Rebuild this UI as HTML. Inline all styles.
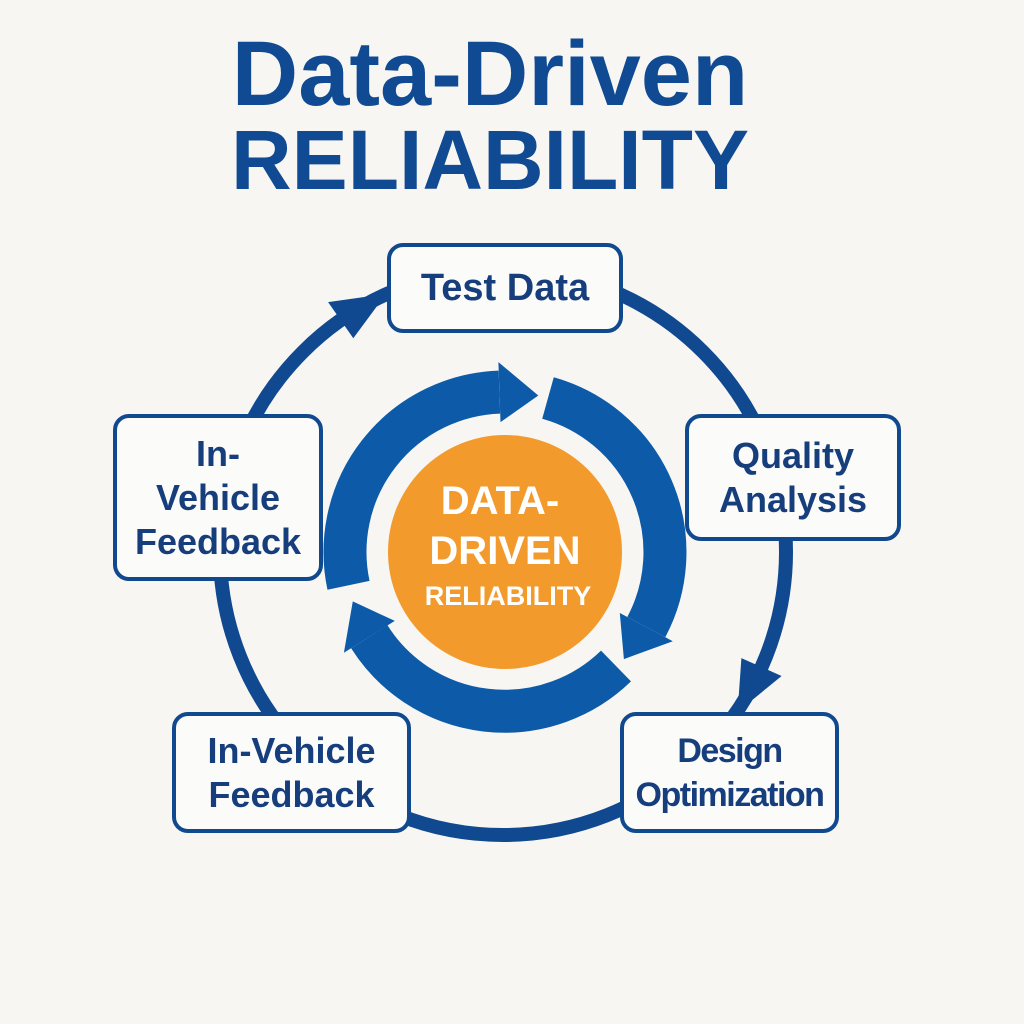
<!DOCTYPE html>
<html><head><meta charset="utf-8"><style>
html,body{margin:0;padding:0;background:#f7f6f2;}
body{width:1024px;height:1024px;position:relative;overflow:hidden;font-family:"Liberation Sans",sans-serif;}
.t{position:absolute;left:0;width:980px;text-align:center;color:#0f4a92;font-weight:bold;}
.box{position:absolute;border:4px solid #11498f;border-radius:16px;background:#fbfbf9;box-sizing:border-box;display:flex;align-items:center;justify-content:center;text-align:center;color:#163e7c;font-weight:bold;font-size:36px;line-height:44px;}
</style></head><body>
<div class="t" style="top:26px;font-size:92px;line-height:96px;">Data-Driven</div>
<div class="t" style="top:118px;font-size:84px;line-height:84px;">RELIABILITY</div>
<svg width="1024" height="1024" style="position:absolute;left:0;top:0">
<circle cx="503" cy="552" r="283" fill="none" stroke="#10498f" stroke-width="14"/>
<polygon points="386,294 353.3,338.2 328.1,302.1" fill="#10498f"/>
<polygon points="737.6,712 741.4,658.1 781.6,676.0" fill="#10498f"/>
<g fill="none" stroke="#0c5aa8" stroke-width="43">
<path d="M348.5 585.3 A160 160 0 0 1 499.4 392.1"/>
<path d="M548 398 A160 160 0 0 1 646.3 627.1"/>
<path d="M616 666 A160 160 0 0 1 369.3 636.8"/>
</g>
<g fill="#0c5aa8">
<polygon points="500.5,422.1 498.4,362.1 538.3,395.5"/>
<polygon points="619.8,613.0 672.8,641.2 623.9,659.1"/>
<polygon points="394.8,620.9 343.9,652.7 352.8,601.4"/>
</g>
<circle cx="505" cy="552" r="117" fill="#f39a2c"/>
<g fill="#fff" font-family="Liberation Sans" font-weight="bold" text-anchor="middle">
<text x="500" y="514" font-size="40">DATA-</text>
<text x="505" y="564" font-size="40">DRIVEN</text>
<text x="508" y="605" font-size="27">RELIABILITY</text>
</g>
</svg>
<div class="box" style="left:387px;top:243px;width:236px;height:90px;font-size:38px;">Test Data</div>
<div class="box" style="left:685px;top:414px;width:216px;height:127px;">Quality<br>Analysis</div>
<div class="box" style="left:620px;top:712px;width:219px;height:121px;font-size:34px;letter-spacing:-1.5px;">Design<br>Optimization</div>
<div class="box" style="left:172px;top:712px;width:239px;height:121px;">In-Vehicle<br>Feedback</div>
<div class="box" style="left:113px;top:414px;width:210px;height:167px;">In-<br>Vehicle<br>Feedback</div>
</body></html>
